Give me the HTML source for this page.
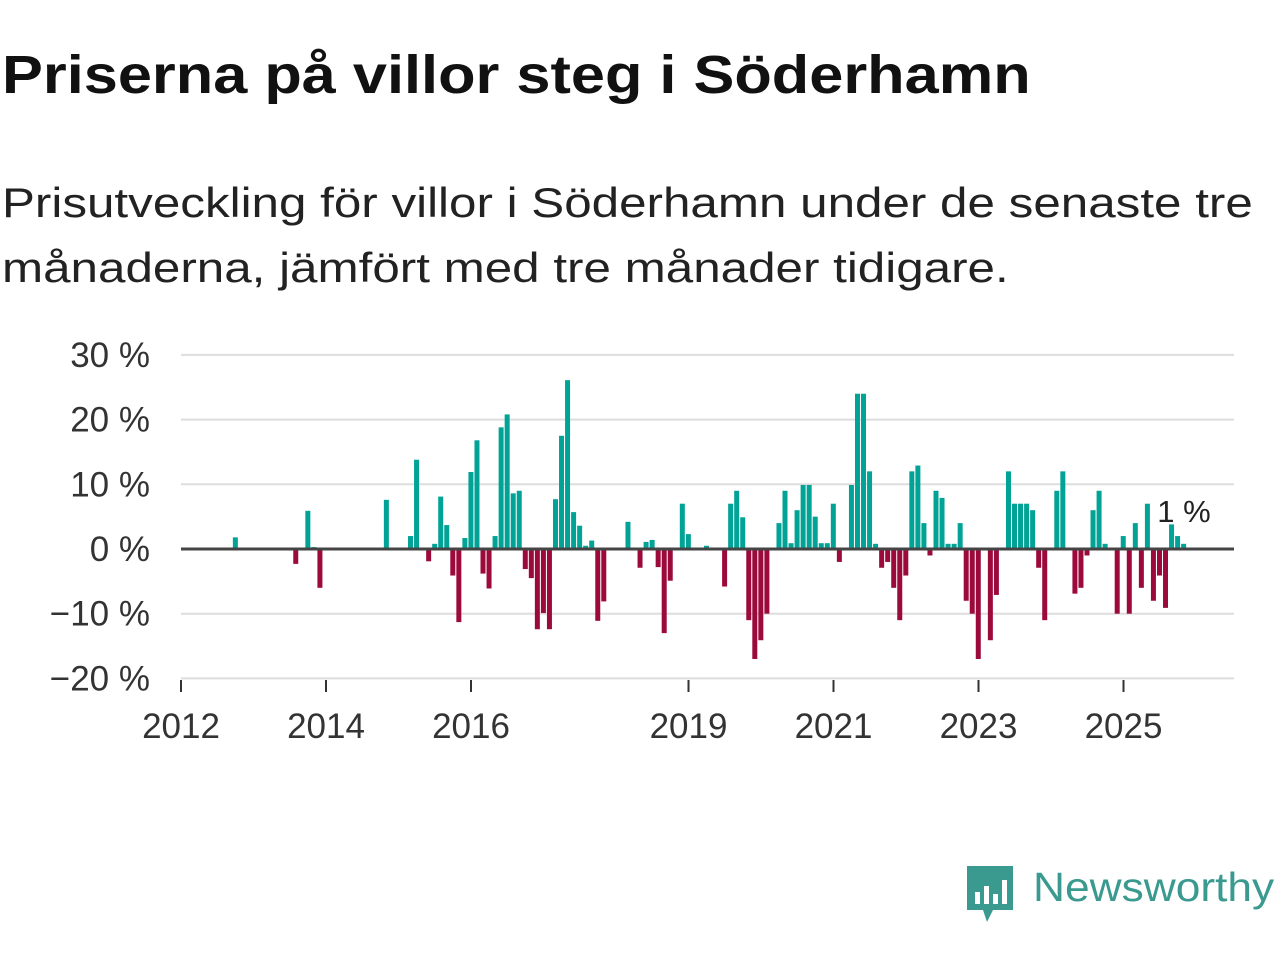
<!DOCTYPE html>
<html><head><meta charset="utf-8"><style>
body{margin:0;width:1280px;height:960px;background:#fff;font-family:"Liberation Sans",sans-serif;overflow:hidden;position:relative}
.t{position:absolute;left:2px;top:44px;font-size:54px;font-weight:bold;color:#111;margin:0;white-space:nowrap;transform:scaleX(1.135);transform-origin:left top}
.s{position:absolute;left:2px;top:170px;font-size:42px;line-height:65px;color:#222;margin:0;white-space:nowrap;transform:scaleX(1.175);transform-origin:left top}
</style></head><body>
<h1 class="t">Priserna på villor steg i Söderhamn</h1>
<p class="s">Prisutveckling för villor i Söderhamn under de senaste tre<br>månaderna, jämfört med tre månader tidigare.</p>
<svg id="c" width="1280" height="960" style="position:absolute;left:0;top:0"></svg>
<div style="position:absolute;left:965px;top:864px">
<svg width="52" height="62"><path d="M2 2h46v44l-20 0-6 12-4-12H2z" fill="#3a9a8f"/><rect x="10" y="28" width="5" height="12" fill="#fff"/><rect x="19" y="22" width="5" height="18" fill="#fff"/><rect x="28" y="30" width="5" height="10" fill="#fff"/><rect x="37" y="16" width="5" height="24" fill="#fff"/></svg></div>
<div style="position:absolute;left:1033px;top:864px;font-size:41px;color:#3a9a8f;white-space:nowrap;transform:scaleX(1.08);transform-origin:left top">Newsworthy</div>
<script>
const months=[9,19,21,22,23,34,38,39,41,42,43,44,45,46,47,48,49,50,51,52,53,54,55,56,57,58,59,60,61,62,63,64,65,66,67,68,69,70,74,76,77,78,79,80,81,83,84,87,90,91,92,93,94,95,96,97,99,100,101,102,103,104,105,106,107,108,109,111,112,113,114,115,116,117,118,119,120,121,122,123,124,125,126,127,128,129,130,131,132,134,135,137,138,139,140,141,142,143,145,146,148,149,150,151,152,153,155,156,157,158,159,160,161,162,163,164,165,166];
const values=[1.8,-2.3,5.9,0.3,-6,7.6,2,13.8,-1.9,0.8,8.1,3.7,-4.1,-11.3,1.7,11.9,16.8,-3.8,-6.1,2,18.8,20.8,8.6,9,-3.1,-4.5,-12.4,-9.9,-12.4,7.7,17.5,26.1,5.7,3.6,0.5,1.3,-11.1,-8.1,4.2,-2.9,1.1,1.4,-2.8,-13,-4.9,7,2.3,0.5,-5.8,7,9,4.9,-11,-17,-14.1,-10,4,9,0.9,6,9.9,9.9,5,0.9,0.9,7,-2,9.9,24,24,12,0.8,-2.9,-2,-6,-11,-4.1,12,12.9,4,-1,9,7.9,0.8,0.8,4,-8,-10,-17,-14.1,-7.1,12,7,7,7,6,-2.9,-11,9,12,-6.9,-6,-1,6,9,0.8,-10,2,-10,4,-6,7,-8,-4.1,-9.1,3.8,2,0.8];
const yTicks=[30,20,10,0,-10,-20];
const yTickLabels=["30 %","20 %","10 %","0 %","−10 %","−20 %"];
const xYears=[2012,2014,2016,2019,2021,2023,2025];
const endLabel="1 %";
const svg=document.getElementById('c');const NS='http://www.w3.org/2000/svg';
const y=v=>549-v*6.47;const xm=m=>181+m*6.04;const xy=yr=>181+(yr-2012)*72.5;
function mk(t,a){const e=document.createElementNS(NS,t);for(const k in a)e.setAttribute(k,a[k]);svg.appendChild(e);return e;}
yTicks.forEach((v,i)=>{
 if(v!==0&&v!==-20){const g=mk('line',{x1:181,x2:1234,y1:y(v),y2:y(v),stroke:'#ddd','stroke-width':2});
 
 }
 const t=mk('text',{x:150,y:y(v)+12,'text-anchor':'end','font-size':35,fill:'#333','font-family':'Liberation Sans, sans-serif'});t.textContent=yTickLabels[i];
 
 
});
const bl=mk('line',{x1:181,x2:1234,y1:y(-20),y2:y(-20),stroke:'#ddd','stroke-width':2});


xYears.forEach(yr=>{
 const tk=mk('line',{x1:xy(yr),x2:xy(yr),y1:680,y2:692,stroke:'#333','stroke-width':2});
 
 
 const t=mk('text',{x:xy(yr),y:738,'text-anchor':'middle','font-size':35,fill:'#333','font-family':'Liberation Sans, sans-serif'});t.textContent=yr;
 
 
});
months.forEach((m,i)=>{const v=values[i];
 const r=mk('rect',{x:xm(m)-2.5,width:5,y:v>=0?y(v):y(0),height:Math.abs(v*6.47),fill:v>=0?'#00a396':'#9c0a3c'});
 
 
});
const z=mk('line',{x1:181,x2:1234,y1:y(0),y2:y(0),stroke:'#444','stroke-width':3});


const el=mk('text',{x:1184,y:522,'text-anchor':'middle','font-size':31,fill:'#222','font-family':'Liberation Sans, sans-serif'});el.textContent=endLabel;


</script>
</body></html>
